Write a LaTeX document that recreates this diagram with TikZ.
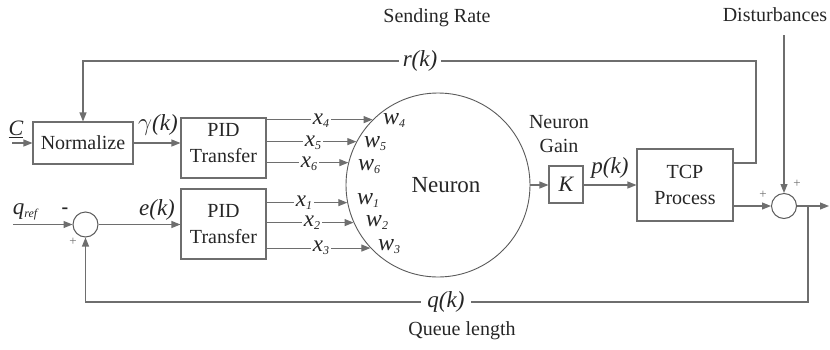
\documentclass[tikz,border=0pt]{standalone}
\usepackage{fontspec}
\setmainfont{Liberation Serif}
\usetikzlibrary{arrows.meta}
\definecolor{wire}{HTML}{6E6E6E}
\definecolor{rim}{HTML}{5A5A5A}
\definecolor{ink}{HTML}{262626}
% small italic index used for x_i, w_i and q_ref
\newcommand{\lowidx}[1]{\raisebox{-2.5pt}{\fontsize{12}{12}\selectfont\itshape #1}}
\begin{document}
\begin{tikzpicture}[x=1pt,y=-1pt,
  wire/.style={draw=wire, line width=1.1pt},
  arr/.style={wire, -{Triangle[length=9pt,width=7pt]}},
  block/.style={draw=wire, line width=1.1pt, fill=white, inner sep=0pt},
  sumjunc/.style={circle, draw=rim, line width=1pt, minimum size=25pt, inner sep=0pt},
  txt/.style={text=ink, inner sep=0pt, font=\fontsize{20}{26}\selectfont, align=center},
  sig/.style={text=ink, fill=white, inner sep=3pt, font=\fontsize{23}{25}\selectfont\itshape},
  xlbl/.style={sig, inner xsep=2pt, inner ysep=0pt, text height=9pt, text depth=2pt},
  wlbl/.style={text=ink, inner sep=0pt, text height=9pt, text depth=2pt, font=\fontsize{24}{25}\selectfont\itshape},
  sign/.style={text=wire, inner sep=0pt, font=\fontsize{13}{13}\selectfont}
]
\useasboundingbox (0,0) rectangle (830,349);

% blocks
\node[block, minimum width=100pt, minimum height=42pt] (norm) at (83,143) {};
\node[txt] (normtxt) at (83,143) {Normalize};
\node[block, minimum width=85pt, minimum height=60pt] (pid1) at (223.5,148) {};
\node[txt] (pid1txt) at (223.5,143) {PID\\Transfer};
\node[block, minimum width=85pt, minimum height=70pt] (pid2) at (223.5,224) {};
\node[txt] (pid2txt) at (223.5,224) {PID\\Transfer};
\node[circle, draw=rim, line width=0.9pt, minimum size=184pt, inner sep=0pt] (neuron) at (438,185) {};
\node[txt, font=\fontsize{23}{25}\selectfont] (neurontxt) at (446,185) {Neuron};
\node[block, minimum width=34pt, minimum height=37pt] (kbox) at (566,184.5) {};
\node[txt, font=\fontsize{22}{24}\selectfont\itshape] (ktxt) at (566,184.5) {K};
\node[block, minimum width=96pt, minimum height=72pt] (tcp) at (685,185) {};
\node[txt] (tcptxt) at (685,185) {TCP\\Process};
\node[sumjunc] (sum1) at (85.5,224.5) {};
\node[sumjunc] (sum2) at (784,206) {};

% free texts
\node[txt] (sendrate) at (437,18) {Sending Rate};
\node[txt] (disturb) at (775,15) {Disturbances};
\node[txt, font=\fontsize{20}{24}\selectfont] (gain) at (559,134) {Neuron\\Gain};
\node[txt] (queue) at (462,331) {Queue length};

% points on the neuron where the inputs arrive
\coordinate (in4) at (neuron.135.9);
\coordinate (in5) at (neuron.152.8);
\coordinate (in6) at (neuron.166.8);
\coordinate (in1) at (neuron.191.3);
\coordinate (in2) at (neuron.204.4);
\coordinate (in3) at (neuron.223.2);

% PID outputs into the neuron
\foreach \k in {4,5,6} \draw[arr] (pid1.east |- in\k) -- (in\k);
\foreach \k in {1,2,3} \draw[arr] (pid2.east |- in\k) -- (in\k);
\node[xlbl] (x4) at (321,121) {x\lowidx{4}};
\node[xlbl] (x5) at (313,143) {x\lowidx{5}};
\node[xlbl] (x6) at (309,164) {x\lowidx{6}};
\node[xlbl] (x1) at (304,203) {x\lowidx{1}};
\node[xlbl] (x2) at (312,223) {x\lowidx{2}};
\node[xlbl] (x3) at (321,248) {x\lowidx{3}};
\node[wlbl] (w4) at (394,121) {w\lowidx{4}};
\node[wlbl] (w5) at (375,144) {w\lowidx{5}};
\node[wlbl] (w6) at (369,167) {w\lowidx{6}};
\node[wlbl] (w1) at (368,201) {w\lowidx{1}};
\node[wlbl] (w2) at (377,223) {w\lowidx{2}};
\node[wlbl] (w3) at (389,247) {w\lowidx{3}};

% forward path
\coordinate (cin) at (12,143);
\draw[arr] (cin) -- (norm.west);
\node[txt, font=\fontsize{22}{24}\selectfont\itshape] (clbl) at (16,129) {\underline{C}};
\draw[arr] (norm.east) -- (norm.east -| pid1.west);
\node[sig, fill=none, inner sep=0pt] (gamma) at (158,125) {$\gamma$(k)};
\coordinate (qin) at (13,224.5);
\draw[arr] (qin) -- (sum1.west);
\node[sig, fill=none, inner sep=0pt] (qref) at (25,212) {q\lowidx{ref}};
\node[txt, font=\fontsize{20}{20}\selectfont\bfseries] (minus) at (65,211) {-};
\node[sign] (plus1) at (73,242) {+};
\draw[arr] (sum1.east) -- (sum1.east -| pid2.west);
\node[sig, fill=none, inner sep=0pt] (ek) at (157,210) {e(k)};
\draw[arr] (neuron.east) -- (neuron.east -| kbox.west);
\draw[arr] (kbox.east |- neuron.east) -- (neuron.east -| tcp.west);
\node[sig, fill=none, inner sep=0pt] (pk) at (610,168) {p(k)};
\draw[arr] (tcp.east |- sum2.west) -- (sum2.west);
\node[sign] (plus2) at (763,195) {+};
\node[sign] (plus3) at (797,184) {+};

% disturbance input and system output
\coordinate (dtop) at (784,35);
\draw[arr] (dtop) -- (sum2.north);
\coordinate (yout) at (829,206);
\draw[arr] (sum2.east) -- (yout);

% sending-rate feedback r(k)
\coordinate (rtap) at (756,163);
\draw[arr] (tcp.east |- rtap) -- (rtap) |- (83,61) -- (norm.north);
\node[sig, inner sep=4pt] (rk) at (420,61) {r(k)};

% queue-length feedback q(k)
\coordinate (ytap) at (808,206);
\draw[arr] (ytap) |- (85.5,302) -- (sum1.south);
\node[sig, inner sep=6pt] (qk) at (446,302) {q(k)};
\end{tikzpicture}
\end{document}
